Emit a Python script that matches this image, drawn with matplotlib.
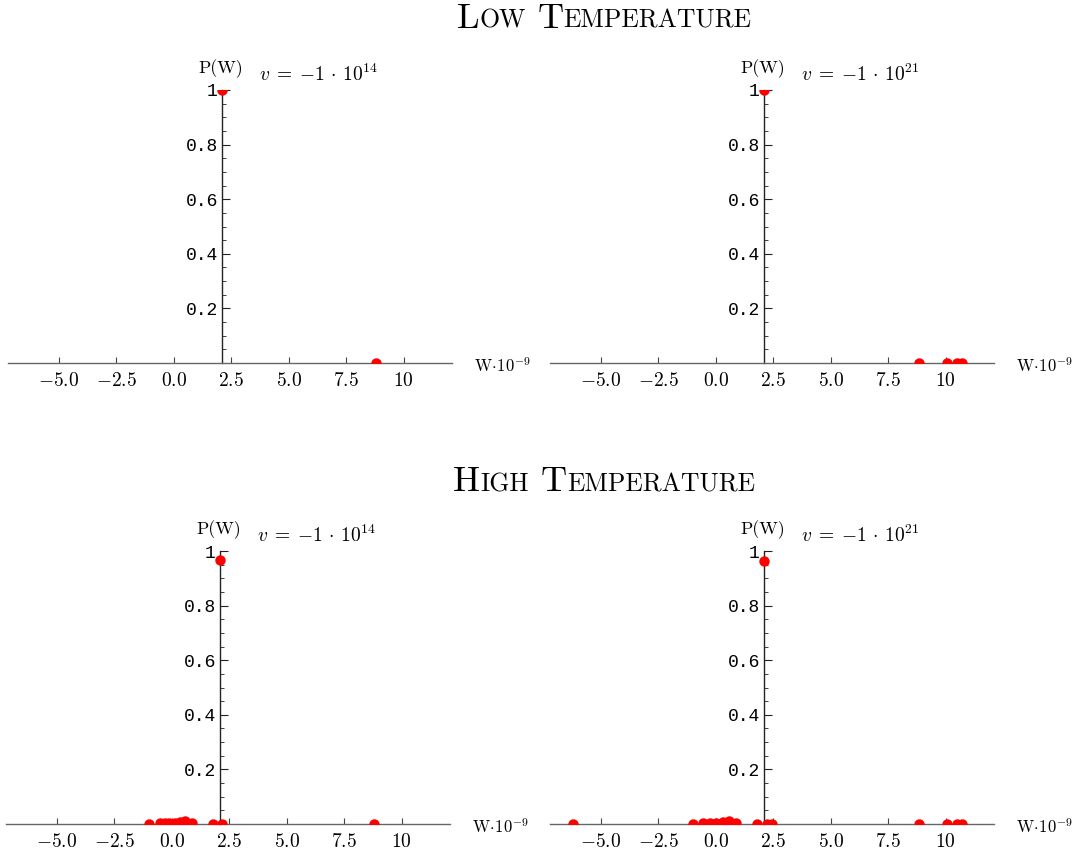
import matplotlib
matplotlib.use("Agg")
import matplotlib.pyplot as plt
import numpy as np

plt.rcParams['mathtext.fontset'] = 'cm'
plt.rcParams['axes.unicode_minus'] = False

# P(W) samples, W in units of 1e-9
low14_w = [2.1, 8.8]
low14_p = [1.0, 0.0]

low21_w = [2.1, 8.85, 10.05, 10.5, 10.7]
low21_p = [1.0, 0.0, 0.0, 0.0, 0.0]

high14_w = [-0.98, -0.5, -0.3, -0.1, 0.13, 0.35, 0.56, 0.87, 1.8, 2.2, 2.1, 8.8]
high14_p = [0.0, 0.002, 0.003, 0.004, 0.005, 0.007, 0.011, 0.003, 0.0, 0.0, 0.967, 0.0]

high21_w = [-6.2, -0.98, -0.55, -0.26, 0.01, 0.31, 0.57, 0.88, 1.8, 2.25, 2.45, 2.1,
            8.85, 10.05, 10.5, 10.7]
high21_p = [0.0, 0.0, 0.002, 0.003, 0.004, 0.006, 0.011, 0.003, 0.0, 0.0, 0.0, 0.965,
            0.0, 0.0, 0.0, 0.0]

xticks = [-5, -2.5, 0, 2.5, 5, 7.5, 10]
xtick_labels = ['$-5.0$', '$-2.5$', '$0.0$', '$2.5$', '$5.0$', '$7.5$', '$10$']
yticks = [0.2, 0.4, 0.6, 0.8, 1.0]
ytick_labels = ['0.2', '0.4', '0.6', '0.8', '1']
v_labels = [r'$v\;=\;{-1}\,\cdot\,10^{14}$', r'$v\;=\;{-1}\,\cdot\,10^{21}$']
origin_x = 2.1

W, H = 1082, 852
fig = plt.figure(figsize=(W / 100, H / 100), dpi=100)

# axes boxes in pixels: left, right, y of P=0, y of P=1 (from top)
boxes = [
    (8, 452, 363, 90),
    (550, 994, 363, 90),
    (6, 450, 824, 551),
    (550, 994, 824, 551),
]
data = [(low14_w, low14_p), (low21_w, low21_p), (high14_w, high14_p), (high21_w, high21_p)]

for i, ((l, r, y0, y1), (ws, ps)) in enumerate(zip(boxes, data)):
    ax = fig.add_axes([l / W, (H - y0) / H, (r - l) / W, (y0 - y1) / H])
    ax.set_xlim(-7.2, 12.1)
    ax.set_ylim(0, 1.0)
    ax.patch.set_alpha(0)
    ax.plot(ws, ps, 'o', color='#ff0000', ms=7.5, mec='none', clip_on=True, zorder=3)

    for s in ['top', 'right']:
        ax.spines[s].set_visible(False)
    ax.spines['left'].set_position(('data', origin_x))
    ax.spines['left'].set_color('#222222')
    ax.spines['bottom'].set_color('#666666')
    ax.spines['left'].set_linewidth(1.0)
    ax.spines['bottom'].set_linewidth(1.0)

    ax.set_xticks(xticks)
    ax.set_xticklabels(xtick_labels, fontsize=14)
    ax.set_yticks(yticks)
    ax.set_yticklabels(ytick_labels, fontsize=13, family='Liberation Mono')
    ax.set_yticks(np.arange(0.05, 1.0, 0.05), minor=True)
    ax.tick_params(axis='x', direction='in', length=4, width=0.8, color='#444444', pad=6)
    ax.tick_params(axis='y', which='major', direction='in', length=6, width=0.8,
                   color='#222222', pad=3)
    ax.tick_params(axis='y', which='minor', direction='in', length=3, width=0.6,
                   color='#222222')

    ax.annotate('P(W)', xy=(origin_x, 1.0), xytext=(-1, 17), textcoords='offset pixels',
                ha='center', va='baseline', fontsize=13, family='cmr10')
    ax.annotate(v_labels[i % 2], xy=(origin_x, 1.0), xytext=(37, 9),
                textcoords='offset pixels', ha='left', va='baseline', fontsize=14)
    ax.annotate(r'$\mathrm{W}\!\cdot\!10^{-9}$', xy=(12.1, 0), xytext=(22, -4),
                textcoords='offset pixels', ha='left', va='center', fontsize=12)


def small_caps(words, cx, y_base, big=26, small=18.5):
    renderer = fig.canvas.get_renderer()
    texts = []
    for w in words:
        texts.append(fig.text(0, y_base, w[0], fontsize=big, family='cmr10', va='baseline'))
        texts.append(fig.text(0, y_base, w[1:].upper(), fontsize=small, family='cmr10',
                              va='baseline'))
    widths = [t.get_window_extent(renderer).width for t in texts]
    gap = 12
    total = sum(widths) + gap * (len(words) - 1)
    x = cx - total / 2
    for k, (t, wd) in enumerate(zip(texts, widths)):
        t.set_x(x / W)
        x += wd
        if k % 2 == 1:
            x += gap


small_caps(['Low', 'Temperature'], 604, 1 - 28 / H)
small_caps(['High', 'Temperature'], 604, 1 - 491 / H)

fig.savefig('out.png', dpi=100)
